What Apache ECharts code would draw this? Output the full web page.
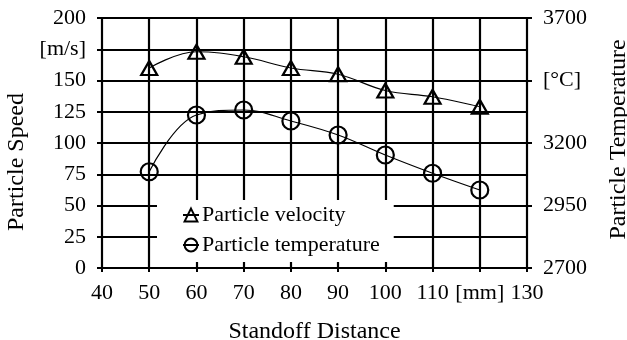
<!DOCTYPE html>
<html>
<head>
<meta charset="utf-8">
<script src="https://cdn.jsdelivr.net/npm/echarts@6/dist/echarts.min.js"></script>
<style>
    html, body { margin: 0; padding: 0; background: #fff; }
    #chart { width: 627px; height: 340px; }
</style>
</head>
<body>
<div id="chart"></div>
<script>
var distance = [50, 60, 70, 80, 90, 100, 110, 120];
var velocity = [160, 173, 169, 160, 155, 142, 137, 129];
var temperature = [3085, 3312, 3332, 3288, 3232, 3152, 3079, 3012];
var tempTicks = [2700, 2950, 3200, 3450, 3700];
// tick values that show a unit instead of a number
var speedUnit = {value: 175, text: '[m/s]'};
var tempUnit = {value: 3450, text: '[°C]'};
var distUnit = {value: 120, text: '[mm]'};

var font = 'Liberation Serif';

function pairs(ys) {
    return distance.map(function (d, i) { return [d, ys[i]]; });
}

var myChart = echarts.init(document.getElementById('chart'));
var option = {
    backgroundColor: '#fff',
    animation: false,
    grid: {left: 102, right: 100, top: 18, bottom: 72, outerBoundsMode: 'none', containLabel: false},
    legend: {
        orient: 'vertical',
        left: 157,
        top: 200,
        padding: [4, 14, 6, 25],
        itemGap: 8,
        itemWidth: 16,
        itemHeight: 16,
        backgroundColor: '#fff',
        textStyle: {fontFamily: font, fontSize: 22, color: '#000', padding: [0, 0, 0, -2]},
        data: ['Particle velocity', 'Particle temperature']
    },
    xAxis: {
        type: 'value',
        min: 40,
        max: 130,
        interval: 10,
        name: 'Standoff Distance',
        nameLocation: 'middle',
        nameGap: 52,
        nameTextStyle: {fontFamily: font, fontSize: 24, color: '#000'},
        axisLine: {lineStyle: {color: '#000', width: 2}},
        axisTick: {show: true, length: 4, lineStyle: {color: '#000', width: 2}},
        axisLabel: {
            margin: 14,
            fontFamily: font, fontSize: 22, color: '#000',
            formatter: function (v) { return v === distUnit.value ? distUnit.text : v; }
        },
        splitLine: {show: true, lineStyle: {color: '#000', width: 2.2}}
    },
    yAxis: [{
        type: 'value',
        min: 0,
        max: 200,
        interval: 25,
        name: 'Particle Speed',
        nameLocation: 'middle',
        nameRotate: 90,
        nameGap: 70,
        nameTextStyle: {fontFamily: font, fontSize: 24, color: '#000', padding: [0, 38, 0, 0]},
        axisLine: {show: true, lineStyle: {color: '#000', width: 2}},
        axisTick: {show: true, length: 5, lineStyle: {color: '#000', width: 2}},
        axisLabel: {
            margin: 16,
            fontFamily: font, fontSize: 22, color: '#000',
            formatter: function (v) { return v === speedUnit.value ? speedUnit.text : v; }
        },
        splitLine: {show: true, lineStyle: {color: '#000', width: 2.2}}
    }, {
        type: 'value',
        min: 2700,
        max: 3700,
        name: 'Particle Temperature',
        nameLocation: 'middle',
        nameRotate: 90,
        nameGap: 80,
        nameTextStyle: {fontFamily: font, fontSize: 24, color: '#000', padding: [0, 0, 0, 7]},
        axisLine: {show: true, lineStyle: {color: '#000', width: 2}},
        axisTick: {show: true, length: 5, customValues: tempTicks, lineStyle: {color: '#000', width: 2}},
        axisLabel: {
            margin: 16,
            customValues: tempTicks,
            fontFamily: font, fontSize: 22, color: '#000',
            formatter: function (v) { return v === tempUnit.value ? tempUnit.text : v; }
        },
        splitLine: {show: false}
    }],
    series: [{
        name: 'Particle velocity',
        type: 'line',
        yAxisIndex: 0,
        smooth: 0.4,
        symbol: 'triangle',
        symbolSize: [16, 14],
        lineStyle: {color: '#000', width: 1.2},
        itemStyle: {color: 'transparent', borderColor: '#000', borderWidth: 2.2},
        data: pairs(velocity)
    }, {
        name: 'Particle temperature',
        type: 'line',
        yAxisIndex: 1,
        smooth: 0.4,
        symbol: 'circle',
        symbolSize: 17,
        lineStyle: {color: '#000', width: 1.2},
        itemStyle: {color: 'transparent', borderColor: '#000', borderWidth: 2.2},
        data: pairs(temperature)
    }]
};
myChart.setOption(option);
</script>
</body>
</html>
